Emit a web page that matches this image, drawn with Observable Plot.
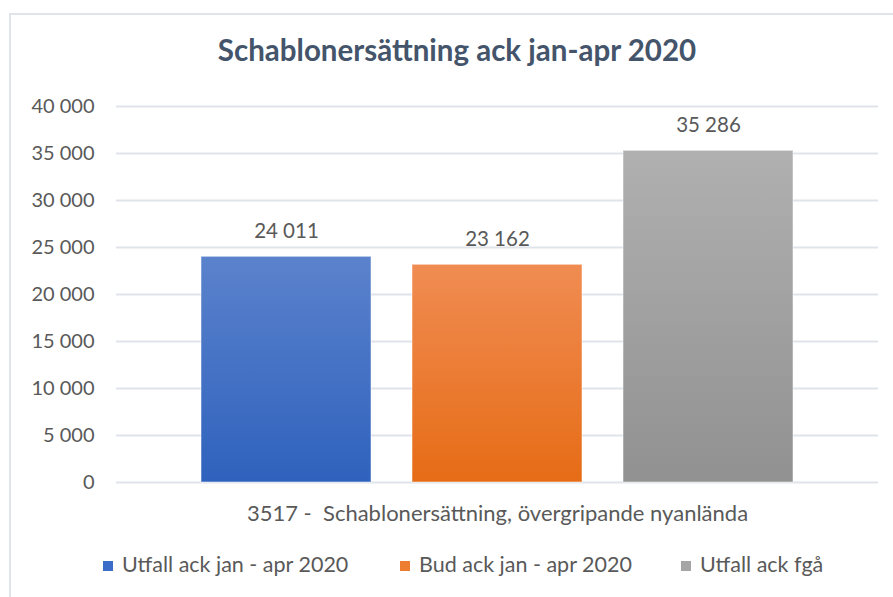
<!DOCTYPE html>
<html>
<head>
<meta charset="utf-8">
<script src="https://cdn.jsdelivr.net/npm/d3@7"></script>
<script src="https://cdn.jsdelivr.net/npm/@observablehq/plot@0.6"></script>
<style>
  html, body { margin: 0; padding: 0; background: #fff; }
  #wrap { position: relative; width: 893px; height: 597px; overflow: hidden; font-family: Lato, "Open Sans", sans-serif; }
  #frame { position: absolute; left: 9px; top: 13px; width: 900px; height: 600px; border-left: 2px solid #dfe3ea; border-top: 2px solid #dfe3ea; }
  #title { position: absolute; left: 0; width: 914px; top: 32px; text-align: center; font-size: 29.5px; font-weight: bold; color: #44546a; }
  #chart { position: absolute; left: 0; top: 0; }
  #legend { position: absolute; top: 551px; left: 0; width: 893px; height: 30px; font-size: 21.5px; color: #595959; }
  .item { position: absolute; white-space: nowrap; }
  .sw { display: inline-block; width: 10px; height: 10px; margin-right: 9px; vertical-align: 1px; }
</style>
</head>
<body>
<div id="wrap">
  <div id="frame"></div>
  <div id="chart"></div>
  <div id="title"></div>
  <div id="legend"></div>
</div>
<script>
const titleText = "Schablonersättning ack jan-apr 2020";
const categoryLabel = "3517 -  Schablonersättning, övergripande nyanlända";
const series = ["Utfall ack jan - apr 2020", "Bud ack jan - apr 2020", "Utfall ack fgå"];
const values = [24011, 23162, 35286];
const yTicks = [0, 5000, 10000, 15000, 20000, 25000, 30000, 35000, 40000];
const gradTop = ["#5b82cc", "#f08c52", "#b0b0b0"];
const gradBottom = ["#2f62bd", "#e66c16", "#919191"];
const legendSolid = ["#3a6cc8", "#ed7d31", "#a5a5a5"];
const legendLeft = [103, 400, 681];

const locale = d3.formatLocale({decimal: ",", thousands: "\u202F", grouping: [3], currency: ["", " kr"]});
const fmt = locale.format(",d");

const data = series.map((s, i) => ({series: s, value: values[i]}));

const chart = Plot.plot({
  width: 893,
  height: 597,
  marginLeft: 116,
  marginRight: 15,
  marginTop: 106,
  marginBottom: 115,
  style: {fontFamily: "Lato, 'Open Sans', sans-serif", fontSize: "20px", color: "#595959", background: "transparent"},
  x: {domain: series, paddingInner: 0.193, paddingOuter: 0.394, axis: null},
  y: {domain: [0, 40000], ticks: yTicks, tickFormat: fmt, tickSize: 0, tickPadding: 22, label: null},
  color: {domain: series, range: series.map((s, i) => `url(#grad${i})`)},
  marks: [
    Plot.ruleY(yTicks, {stroke: "#dfe3ea", strokeWidth: 2, strokeOpacity: 1}),
    Plot.barY(data, {x: "series", y: "value", fill: "series", stroke: "#ffffff", strokeOpacity: 0.5, strokeWidth: 1}),
    Plot.text(data, {x: "series", y: "value", text: d => fmt(d.value), dy: -25, fill: "#595959", fontSize: 20.5}),
    Plot.text([categoryLabel], {frameAnchor: "bottom", dy: 38, text: d => d, fill: "#595959", fontSize: 22})
  ]
});

const svg = d3.select(chart);
const defs = svg.insert("defs", ":first-child");
series.forEach((s, i) => {
  const g = defs.append("linearGradient").attr("id", `grad${i}`).attr("x1", 0).attr("y1", 0).attr("x2", 0).attr("y2", 1);
  g.append("stop").attr("offset", "0%").attr("stop-color", gradTop[i]);
  g.append("stop").attr("offset", "100%").attr("stop-color", gradBottom[i]);
});
document.getElementById("chart").appendChild(chart);
document.getElementById("title").textContent = titleText;

const legend = document.getElementById("legend");
series.forEach((s, i) => {
  const it = document.createElement("div");
  it.className = "item";
  it.style.left = legendLeft[i] + "px";
  const sw = document.createElement("span");
  sw.className = "sw";
  sw.style.background = legendSolid[i];
  it.appendChild(sw);
  it.appendChild(document.createTextNode(s));
  legend.appendChild(it);
});
</script>
</body>
</html>
